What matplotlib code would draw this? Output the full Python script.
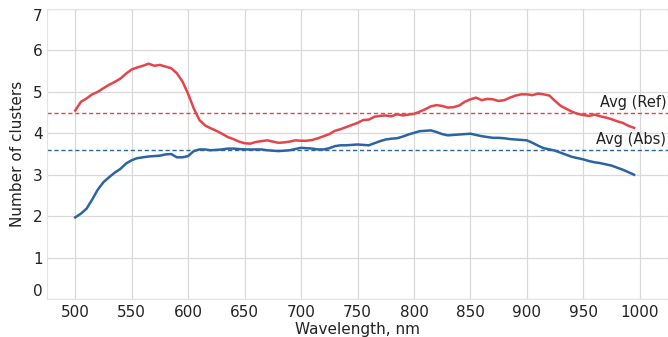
import numpy as np
import matplotlib
matplotlib.use("Agg")
import matplotlib.pyplot as plt
import matplotlib.transforms as mtransforms

wavelength = list(range(500, 1000, 5))

ref_clusters = [
    4.55, 4.76, 4.84, 4.94, 5.00, 5.09, 5.17, 5.24, 5.32, 5.44,
    5.54, 5.59, 5.63, 5.68, 5.63, 5.65, 5.61, 5.57, 5.45, 5.25,
    4.95, 4.60, 4.32, 4.19, 4.12, 4.06, 3.99, 3.91, 3.86, 3.80,
    3.76, 3.75, 3.79, 3.81, 3.83, 3.80, 3.77, 3.78, 3.80, 3.83,
    3.82, 3.82, 3.84, 3.88, 3.93, 3.98, 4.06, 4.10, 4.15, 4.20,
    4.25, 4.32, 4.33, 4.40, 4.42, 4.43, 4.41, 4.46, 4.43, 4.45,
    4.47, 4.52, 4.58, 4.65, 4.68, 4.66, 4.62, 4.63, 4.67, 4.76,
    4.82, 4.86, 4.80, 4.83, 4.82, 4.78, 4.80, 4.86, 4.91, 4.94,
    4.94, 4.92, 4.96, 4.94, 4.91, 4.78, 4.66, 4.59, 4.52, 4.47,
    4.44, 4.42, 4.45, 4.41, 4.38, 4.34, 4.29, 4.25, 4.18, 4.13,
]

abs_clusters = [
    1.97, 2.06, 2.18, 2.40, 2.64, 2.82, 2.94, 3.05, 3.14, 3.27,
    3.35, 3.40, 3.42, 3.44, 3.45, 3.46, 3.49, 3.50, 3.42, 3.42,
    3.45, 3.57, 3.61, 3.61, 3.59, 3.60, 3.61, 3.63, 3.63, 3.62,
    3.61, 3.61, 3.61, 3.61, 3.59, 3.58, 3.57, 3.58, 3.59, 3.62,
    3.65, 3.64, 3.63, 3.61, 3.61, 3.64, 3.69, 3.71, 3.71, 3.72,
    3.73, 3.72, 3.71, 3.76, 3.81, 3.85, 3.87, 3.88, 3.92, 3.97,
    4.01, 4.05, 4.06, 4.07, 4.03, 3.98, 3.95, 3.96, 3.97, 3.98,
    3.99, 3.96, 3.93, 3.91, 3.89, 3.89, 3.88, 3.86, 3.85, 3.84,
    3.83, 3.77, 3.70, 3.64, 3.61, 3.58, 3.53, 3.48, 3.43, 3.40,
    3.37, 3.33, 3.30, 3.28, 3.25, 3.22, 3.17, 3.12, 3.06, 3.00,
]

avg_ref = 4.5
avg_abs = 3.6
avg_labels = ["Avg (Ref)", "Avg (Abs)"]
x_ticks = [500, 550, 600, 650, 700, 750, 800, 850, 900, 950, 1000]
y_ticks = [0, 1, 2, 3, 4, 5, 6, 7]

RED = "#e4444a"
BLUE = "#2b63a3"

plt.rcParams['font.family'] = ['DejaVu Sans']
fig = plt.figure(figsize=(6.68, 3.37), dpi=100)
ax = fig.add_axes([47/668, 1 - 299/337, 1 - 47/668, (299 - 9)/337])

ax.plot(wavelength, ref_clusters, color=RED, lw=1.8, zorder=3)
ax.plot(wavelength, abs_clusters, color=BLUE, lw=1.8, zorder=3)
ax.axhline(avg_ref, color=RED, lw=1.0, ls=(0, (3, 2)), zorder=2)
ax.axhline(avg_abs, color=BLUE, lw=1.0, ls=(0, (3, 2)), zorder=2)

trans = mtransforms.blended_transform_factory(ax.transAxes, ax.transData)
ax.text(0.997, avg_ref + 0.07, avg_labels[0], transform=trans, ha='right', va='bottom',
        fontsize=10.5, color='#222222')
ax.text(0.997, avg_abs + 0.07, avg_labels[1], transform=trans, ha='right', va='bottom',
        fontsize=10.5, color='#222222')

ax.set_xlim(475, 1025)
ax.set_ylim(0, 7)
ax.set_xticks(x_ticks)
ax.set_yticks(y_ticks)
ax.grid(True, color='#d9d9d9', lw=0.9)
ax.set_axisbelow(True)
for s in ax.spines.values():
    s.set_color('#e3e3e3')
    s.set_linewidth(0.8)
ax.tick_params(length=0, labelsize=11, colors='#222222', pad=4)
ax.tick_params(axis='y', pad=3)

ylabs = ax.get_yticklabels()
ylabs[0].set_va('bottom')
ylabs[-1].set_va('top')

ax.set_xlabel("Wavelength, nm", fontsize=11, color='#222222', labelpad=2)
ax.set_ylabel("Number of clusters", fontsize=11, color='#222222', labelpad=6)

fig.savefig("out.png", dpi=100)
